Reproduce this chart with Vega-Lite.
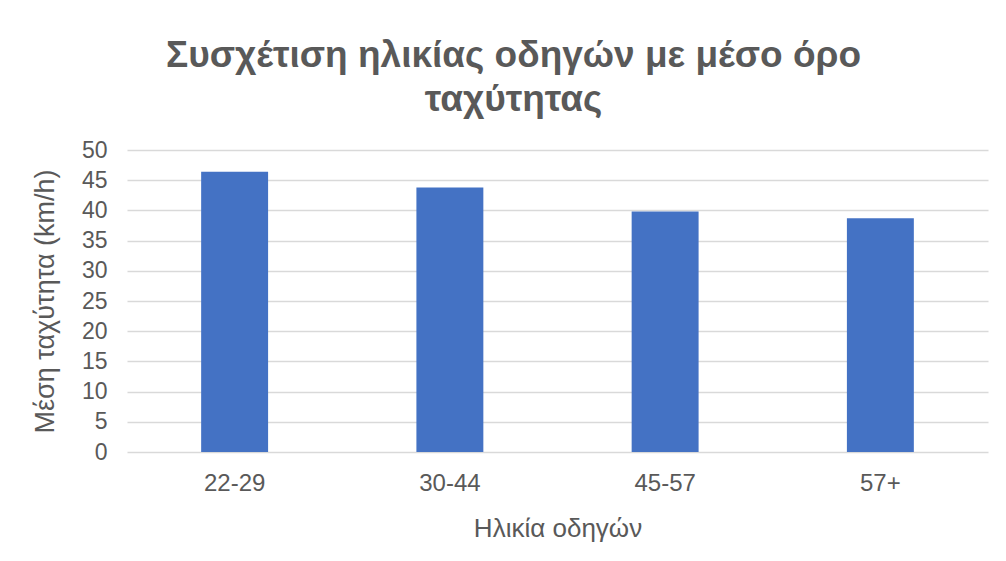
{
  "$schema": "https://vega.github.io/schema/vega-lite/v6.json",
  "width": 861,
  "height": 302,
  "autosize": {"type": "none"},
  "padding": {"left": 127, "top": 150, "right": 18, "bottom": 109},
  "background": "white",
  "data": {"values": [
    {"age": "22-29", "speed": 46.4},
    {"age": "30-44", "speed": 43.8},
    {"age": "45-57", "speed": 39.8},
    {"age": "57+", "speed": 38.7}
  ]},
  "title": {
    "text": ["Συσχέτιση ηλικίας οδηγών με μέσο όρο", "ταχύτητας"],
    "font": "Liberation Sans",
    "fontSize": 37,
    "fontWeight": "bold",
    "color": "#595959",
    "lineHeight": 44,
    "anchor": "middle",
    "frame": "group",
    "dx": -44,
    "offset": 20
  },
  "mark": {"type": "bar", "color": "#4472C4"},
  "encoding": {
    "x": {
      "field": "age",
      "type": "nominal",
      "sort": null,
      "scale": {"paddingInner": 0.689, "paddingOuter": 0.3445},
      "axis": {
        "title": "Ηλικία οδηγών",
        "titleFont": "Liberation Sans",
        "titleFontSize": 26,
        "titleFontWeight": "normal",
        "titleColor": "#595959",
        "titlePadding": 20,
        "labelFont": "Liberation Sans",
        "labelFontSize": 24,
        "labelColor": "#595959",
        "labelAngle": 0,
        "labelPadding": 19,
        "ticks": false,
        "domain": false
      }
    },
    "y": {
      "field": "speed",
      "type": "quantitative",
      "scale": {"domain": [0, 50], "nice": false},
      "axis": {
        "title": "Μέση ταχύτητα (km/h)",
        "titleFont": "Liberation Sans",
        "titleFontSize": 27,
        "titleFontWeight": "normal",
        "titleColor": "#595959",
        "titlePadding": 22,
        "labelFont": "Liberation Sans",
        "labelFontSize": 23,
        "labelColor": "#595959",
        "labelPadding": 20,
        "values": [0, 5, 10, 15, 20, 25, 30, 35, 40, 45, 50],
        "ticks": false,
        "domain": false,
        "grid": true,
        "gridColor": "#d9d9d9",
        "gridWidth": 1.5
      }
    }
  },
  "config": {"view": {"stroke": null}}
}
